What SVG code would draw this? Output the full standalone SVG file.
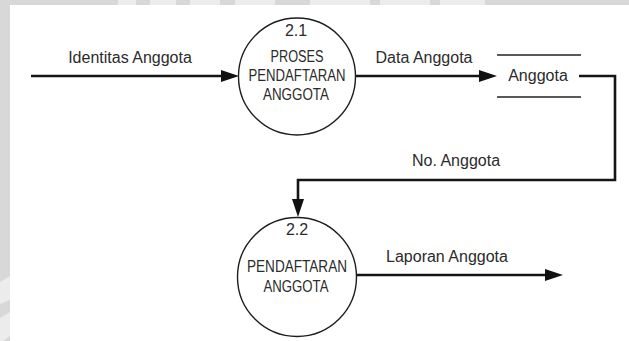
<svg xmlns="http://www.w3.org/2000/svg" width="629" height="341" viewBox="0 0 629 341">
  <style>
    .lbl { font-family: "Liberation Sans", Arial, sans-serif; font-size: 16px; fill: #2b2b2b; }
    .mid { text-anchor: middle; }
    .flow { fill: none; stroke: #151515; stroke-width: 2.6; }
    .proc { fill: #ffffff; stroke: #1e1e1e; stroke-width: 1.4; }
    .store { stroke: #5a5a5a; stroke-width: 2; }
  </style>
  <defs>
    <marker id="head" markerUnits="userSpaceOnUse" markerWidth="20" markerHeight="14" refX="0" refY="7" orient="auto" viewBox="0 0 20 14">
      <path d="M0,1 L18,7 L0,13 Z" fill="#111111"/>
    </marker>
  </defs>

  <!-- page background with grey margin band -->
  <rect x="0" y="0" width="629" height="341" fill="#d8d8d8"/>
  <rect x="10" y="5" width="619" height="336" fill="#ffffff"/>
  <!-- light marks in the margin band -->
  <g fill="#ececec">
    <rect x="118" y="0" width="18" height="5"/>
    <rect x="150" y="0" width="26" height="5"/>
    <rect x="190" y="0" width="30" height="5"/>
    <rect x="235" y="0" width="40" height="5"/>
    <rect x="310" y="0" width="60" height="5"/>
    <rect x="380" y="0" width="50" height="5"/>
    <rect x="440" y="0" width="45" height="5"/>
    <polygon points="0,282 10,276 10,300 0,304"/>
    <polygon points="0,318 10,312 10,336 3,341 0,341"/>
  </g>

  <!-- data flows -->
  <g id="connectors">
    <path class="flow" d="M31,76 H221" marker-end="url(#head)"/>
    <path class="flow" d="M356,76 H479" marker-end="url(#head)"/>
    <path class="flow" d="M579,76 H615 V180 H298 V199" marker-end="url(#head)"/>
    <path class="flow" d="M356,275 H545" marker-end="url(#head)"/>
    <text class="lbl mid" x="130" y="63">Identitas Anggota</text>
    <text class="lbl mid" x="424" y="63">Data Anggota</text>
    <text class="lbl mid" x="456" y="166">No. Anggota</text>
    <text class="lbl mid" x="447" y="262">Laporan Anggota</text>
  </g>

  <!-- process 2.1 -->
  <g id="proses-2-1">
    <circle class="proc" cx="297" cy="76.5" r="58.5"/>
    <text class="lbl mid" x="296" y="36">2.1</text>
    <text class="lbl mid" x="297" y="62" textLength="53" lengthAdjust="spacingAndGlyphs">PROSES</text>
    <text class="lbl mid" x="297" y="81" textLength="97" lengthAdjust="spacingAndGlyphs">PENDAFTARAN</text>
    <text class="lbl mid" x="296" y="100" textLength="66" lengthAdjust="spacingAndGlyphs">ANGGOTA</text>
  </g>

  <!-- data store Anggota -->
  <g id="store-anggota">
    <line class="store" x1="497" y1="55" x2="581" y2="55"/>
    <line class="store" x1="497" y1="97" x2="581" y2="97"/>
    <text class="lbl mid" x="538" y="81">Anggota</text>
  </g>

  <!-- process 2.2 -->
  <g id="proses-2-2">
    <circle class="proc" cx="297" cy="277" r="59.5"/>
    <text class="lbl mid" x="297" y="235">2.2</text>
    <text class="lbl mid" x="297" y="272" textLength="100" lengthAdjust="spacingAndGlyphs">PENDAFTARAN</text>
    <text class="lbl mid" x="296" y="292" textLength="65" lengthAdjust="spacingAndGlyphs">ANGGOTA</text>
  </g>
</svg>
